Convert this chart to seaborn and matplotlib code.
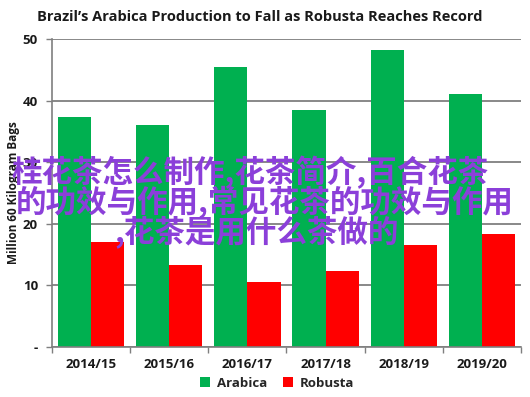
import matplotlib
matplotlib.use("Agg")
import matplotlib.pyplot as plt
import seaborn as sns
import pandas as pd
from matplotlib.ticker import FixedLocator, FuncFormatter

# ---- data ----
seasons = ["2014/15", "2015/16", "2016/17", "2017/18", "2018/19", "2019/20"]
arabica = [37.3, 36.1, 45.5, 38.5, 48.2, 41.0]
robusta = [17.0, 13.3, 10.5, 12.4, 16.6, 18.3]
series_names = ["Arabica", "Robusta"]
y_ticks = [0, 10, 20, 30, 40, 50]
title = "Brazil\u2019s Arabica Production to Fall as Robusta Reaches Record"
y_label = "Million 60 Kilogram Bags"
overlay_lines = ["桂花茶怎么制作,花茶简介,百合花茶",
                 "的功效与作用,常见花茶的功效与作用",
                 ",花茶是用什么茶做的"]

df = pd.DataFrame({
    "season": seasons * 2,
    "value": arabica + robusta,
    "type": [series_names[0]] * len(seasons) + [series_names[1]] * len(seasons),
})

sns.set_theme(style="white")
plt.rcParams["font.family"] = ["Open Sans", "DejaVu Sans"]
plt.rcParams["font.weight"] = "bold"
plt.rcParams["axes.labelweight"] = "bold"

fig = plt.figure(figsize=(5.3, 3.97), dpi=100)
ax = fig.add_axes([0.098, 0.126, 0.885, 0.776])

sns.barplot(data=df, x="season", y="value", hue="type", order=seasons,
            hue_order=series_names, palette=["#00B050", "#FF0000"],
            width=0.85, gap=0, ax=ax, saturation=1, legend=True,
            edgecolor="none", linewidth=0)

ax.set_ylim(0, 50)
ax.set_xlim(-0.5, len(seasons) - 0.5)
ax.set_yticks(y_ticks)
ax.yaxis.set_major_formatter(FuncFormatter(lambda v, p: "-" if v == 0 else f"{int(v)}"))
ax.yaxis.grid(True, color="#7f7f7f", linewidth=1.3)
ax.set_axisbelow(True)

# x ticks: labels at centers, tick marks at boundaries
ax.tick_params(axis="x", which="major", length=0, pad=8, labelsize=9.5, labelcolor="#1a1a1a")
ax.xaxis.set_minor_locator(FixedLocator([i - 0.5 for i in range(len(seasons) + 1)]))
ax.tick_params(axis="x", which="minor", length=4, width=1, color="#7f7f7f", direction="out", bottom=True)
ax.tick_params(axis="y", which="major", length=4, width=1, color="#7f7f7f", direction="out", left=True,
               labelsize=9.5, pad=6, labelcolor="#1a1a1a")

for s in ["top", "right"]:
    ax.spines[s].set_visible(False)
for s in ["left", "bottom"]:
    ax.spines[s].set_color("#7f7f7f")
    ax.spines[s].set_linewidth(1.2)

ax.set_xlabel("")
ax.set_ylabel(y_label, fontsize=8.5, fontweight="bold", color="#1a1a1a", labelpad=2)

leg = ax.legend(loc="center", bbox_to_anchor=(0.48, -0.117), ncol=2, frameon=False,
                handlelength=0.8, handleheight=0.8, handletextpad=0.5, columnspacing=1.2,
                borderpad=0, prop={"weight": "bold", "size": 9.5})

fig.text(0.49, 0.957, title, ha="center", va="center", fontsize=10.5, fontweight="bold", color="#1a1a1a")

# overlay text
purple = "#8B3FD9"
centers = [(250, 173), (265, 203), (257, 232)]
for line, (cx, cy) in zip(overlay_lines, centers):
    fig.text(cx / 530, 1 - cy / 397, line, ha="center", va="center",
             fontsize=22, fontweight="bold", color=purple,
             family=["Noto Sans CJK SC", "DejaVu Sans"])

fig.savefig("out.png", dpi=100)
